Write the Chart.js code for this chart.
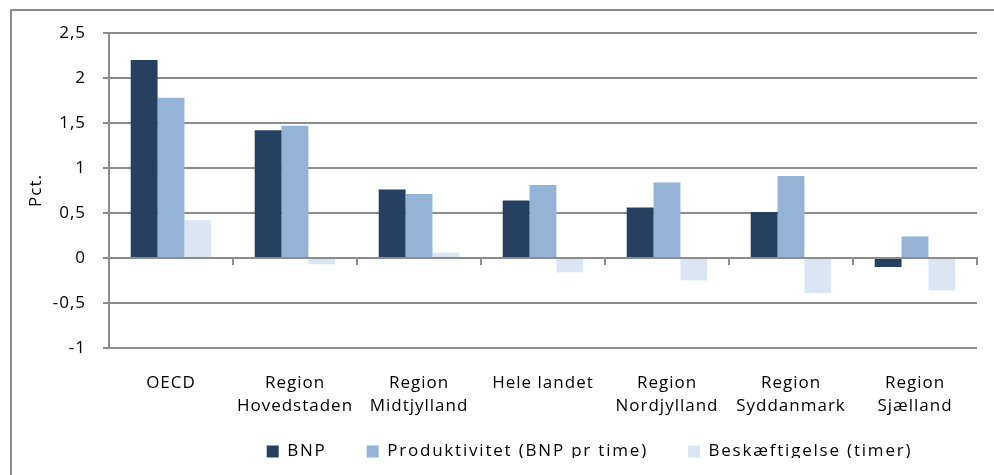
<!DOCTYPE html>
<html>
<head>
<meta charset="utf-8">
<script src="https://cdn.jsdelivr.net/npm/chart.js@4.4.1/dist/chart.umd.min.js"></script>
<style>
  html, body { margin: 0; padding: 0; background: #fff; }
  canvas { display: block; }
</style>
</head>
<body>
<canvas id="barChart" width="994" height="475"></canvas>
<script>
// data
const categories = ['OECD', ['Region', 'Hovedstaden'], ['Region', 'Midtjylland'], 'Hele landet',
    ['Region', 'Nordjylland'], ['Region', 'Syddanmark'], ['Region', 'Sjælland']];
const bnp = [2.2, 1.42, 0.76, 0.64, 0.56, 0.51, -0.1];
const produktivitet = [1.78, 1.47, 0.71, 0.81, 0.84, 0.91, 0.24];
const beskaeftigelse = [0.42, -0.07, 0.06, -0.16, -0.25, -0.39, -0.36];
const yTicks = [-1, -0.5, 0, 0.5, 1, 1.5, 2, 2.5];

const FONT = "'Open Sans', sans-serif";
const GRID = '#8c8c8c';

// letter spacing like the original's wide text
const spacing = {
    id: 'spacing',
    beforeLayout(chart) { chart.ctx.letterSpacing = '1px'; },
    beforeDraw(chart) { chart.ctx.letterSpacing = '1px'; }
};

// legend text is spaced a bit wider, the box is shorter and sits right of centre
const legendTweak = {
    id: 'legendTweak',
    beforeLayout(chart) {
        const lg = chart.legend;
        if (!lg || lg._tweaked) return;
        const fit = lg.fit.bind(lg);
        const draw = lg.draw.bind(lg);
        lg.fit = function () {
            this.ctx.letterSpacing = '1.8px';
            fit();
            this.ctx.letterSpacing = '1px';
            this.height = 55;
        };
        lg.draw = function () {
            this.ctx.letterSpacing = '1.8px';
            draw();
            this.ctx.letterSpacing = '1px';
        };
        lg._tweaked = true;
    },
    afterLayout(chart) {
        const lg = chart.legend;
        lg.left += 101;
        lg.right += 101;
        lg.top = 403;
        lg.bottom = lg.top + lg.height;
    }
};

// outer frame (left and top edges visible)
const frame = {
    id: 'frame',
    beforeDraw(chart) {
        const c = chart.ctx;
        c.save();
        c.strokeStyle = GRID;
        c.lineWidth = 2;
        c.beginPath();
        c.moveTo(11, chart.height);
        c.lineTo(11, 10);
        c.lineTo(chart.width, 10);
        c.stroke();
        c.restore();
    }
};

const ctx = document.getElementById('barChart').getContext('2d');
const chart = new Chart(ctx, {
    type: 'bar',
    data: {
        labels: categories,
        datasets: [
            { label: 'BNP', data: bnp, backgroundColor: '#264061' },
            { label: 'Produktivitet (BNP pr time)', data: produktivitet, backgroundColor: '#95b3d7' },
            { label: 'Beskæftigelse (timer)', data: beskaeftigelse, backgroundColor: '#dce6f2' }
        ]
    },
    options: {
        responsive: false,
        animation: false,
        categoryPercentage: 0.65,
        barPercentage: 1,
        layout: { padding: { top: 33, right: 17, bottom: 0, left: 0 } },
        font: { family: FONT },
        plugins: {
            legend: {
                position: 'bottom',
                labels: {
                    boxWidth: 12,
                    boxHeight: 12,
                    padding: 40,
                    color: '#000',
                    font: { family: FONT, size: 17 }
                }
            },
            tooltip: { enabled: false }
        },
        scales: {
            x: {
                afterFit: scale => { scale.height = 72; },
                grid: { display: false },
                border: { display: false },
                ticks: {
                    color: '#000',
                    padding: 16,
                    maxRotation: 0,
                    autoSkip: false,
                    font: { family: FONT, size: 17, lineHeight: 1.35 }
                }
            },
            // tick marks on the zero line
            xZero: {
                type: 'category',
                position: { y: 0 },
                offset: true,
                grid: { drawOnChartArea: false, color: GRID, lineWidth: 2, tickLength: 6, offset: true },
                border: { color: GRID, width: 2 },
                ticks: { display: false }
            },
            y: {
                min: -1,
                max: 2.5,
                afterBuildTicks: scale => { scale.ticks = yTicks.map(v => ({ value: v })); },
                afterFit: scale => { scale.width = 109; },
                grid: { color: GRID, lineWidth: 2, tickLength: 6 },
                border: { color: GRID, width: 2 },
                ticks: {
                    color: '#000',
                    padding: 17,
                    font: { family: FONT, size: 17 },
                    callback: v => String(v).replace('.', ',')
                },
                title: {
                    display: true,
                    text: 'Pct.',
                    color: '#000',
                    padding: { top: 26, bottom: 0 },
                    font: { family: FONT, size: 17 }
                }
            }
        }
    },
    plugins: [spacing, legendTweak, frame]
});
</script>
</body>
</html>
